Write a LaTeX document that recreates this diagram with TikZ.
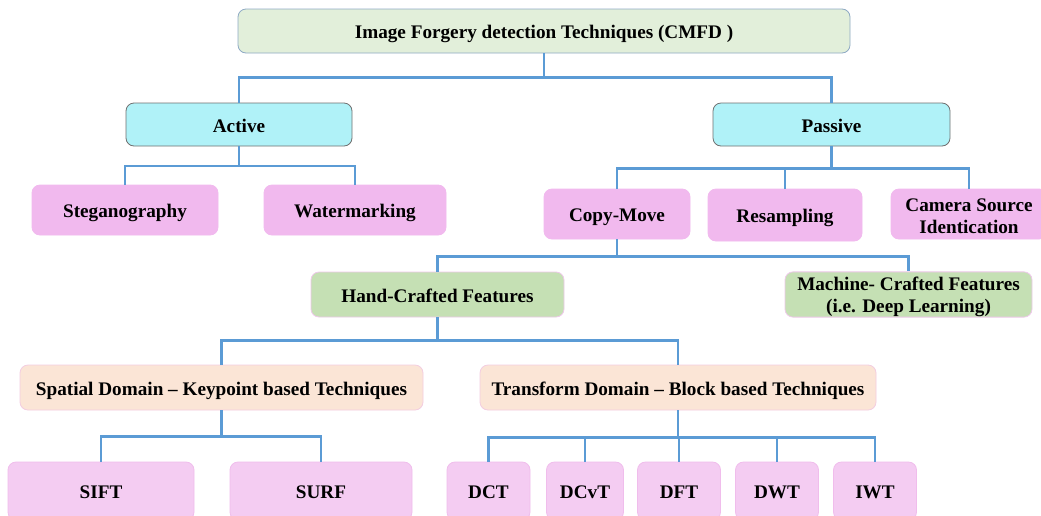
\documentclass[tikz,border=0pt]{standalone}
\usepackage{fontspec}
\setmainfont{Liberation Serif}
\begin{document}
\begin{tikzpicture}[x=1pt,y=-1pt,
  box/.style={rounded corners=8pt, inner sep=0pt, align=center,
    font=\fontsize{19.2}{22}\selectfont\bfseries, line width=0.8pt},
  oneline/.style={text height=16.5pt, text depth=1pt},
  rootbox/.style={box, oneline, fill=rootfill, draw=rootline},
  levelone/.style={box, oneline, fill=cyanfill, draw=greyline},
  pinkbox/.style={box, fill=pinkfill, draw=pinkfill},
  leafbox/.style={box, oneline, fill=leaffill, draw=leafline},
  featbox/.style={box, fill=featfill, draw=featline},
  domainbox/.style={box, oneline, fill=domfill, draw=domline},
  conn/.style={draw=connblue, line width=2.4pt}
]
\definecolor{rootfill}{HTML}{E2EFDA}
\definecolor{rootline}{HTML}{8FAAC4}
\definecolor{cyanfill}{HTML}{B0F2F8}
\definecolor{greyline}{HTML}{707070}
\definecolor{pinkfill}{HTML}{F1B9EE}
\definecolor{leaffill}{HTML}{F4CCF2}
\definecolor{leafline}{HTML}{F0BDEC}
\definecolor{featfill}{HTML}{C5E0B4}
\definecolor{featline}{HTML}{EEC8EA}
\definecolor{domfill}{HTML}{FBE5D6}
\definecolor{domline}{HTML}{F3CDE0}
\definecolor{connblue}{HTML}{5B9BD5}

\clip (0,0) rectangle (1041,515);
\fill[white] (0,0) rectangle (1041,515);

% root
\node[rootbox, minimum width=612pt, minimum height=44pt] (root) at (544,31)
  {Image Forgery detection Techniques (CMFD )};

% first level
\node[levelone, minimum width=226pt, minimum height=43pt] (act) at (239,124.5) {Active};
\node[levelone, minimum width=237pt, minimum height=43pt] (pas) at (831.5,124.5) {Passive};

% children of Active
\node[pinkbox, oneline, minimum width=186pt, minimum height=50pt] (steg) at (125,210) {Steganography};
\node[pinkbox, oneline, minimum width=182pt, minimum height=50pt] (wm) at (355,210) {Watermarking};

% children of Passive
\node[pinkbox, oneline, minimum width=146pt, minimum height=50pt] (cm) at (617,214) {Copy-Move};
\node[pinkbox, oneline, minimum width=154pt, minimum height=52pt] (res) at (785,215) {Resampling};
\node[pinkbox, minimum width=156pt, minimum height=50pt] (cam) at (969,214)
  {\rule{0pt}{18pt}Camera Source\\Identication};

% features
\node[featbox, oneline, minimum width=253pt, minimum height=45pt] (hand) at (437.5,294.5) {Hand-Crafted Features};
\node[featbox, minimum width=247pt, minimum height=45pt] (mach) at (908.5,294.5)
  {\rule{0pt}{19pt}Machine- Crafted Features\\(i.e. Deep Learning)};

% domains
\node[domainbox, minimum width=403pt, minimum height=45pt] (spat) at (221.5,387.5)
  {Spatial Domain -- Keypoint based Techniques};
\node[domainbox, minimum width=396pt, minimum height=45pt] (trans) at (678,387.5)
  {Transform Domain -- Block based Techniques};

% leaves
\node[leafbox, minimum width=186pt, minimum height=58pt] (sift) at (101,491) {SIFT};
\node[leafbox, minimum width=182pt, minimum height=58pt] (surf) at (321,491) {SURF};
\node[leafbox, minimum width=83pt, minimum height=58pt] (dct) at (488.5,491) {DCT};
\node[leafbox, minimum width=77pt, minimum height=58pt] (dcvt) at (585,491) {DCvT};
\node[leafbox, minimum width=83pt, minimum height=58pt] (dft) at (679,491) {DFT};
\node[leafbox, minimum width=83pt, minimum height=58pt] (dwt) at (777,491) {DWT};
\node[leafbox, minimum width=83pt, minimum height=58pt] (iwt) at (875,491) {IWT};

% connectors
\draw[conn] (root.south) -- ++(0,24) coordinate (j0);
\draw[conn] (act.north) |- (j0) -| (pas.north);

\draw[conn] (act.south) -- ++(0,19.5) coordinate (j1);
\draw[conn] (steg.north) |- (j1) -| (wm.north);

\draw[conn] (pas.south) -- ++(0,22) coordinate (j2);
\draw[conn] (cm.north) |- (j2) -| (cam.north);
\draw[conn] (res.north) -- (res.north |- j2);

\draw[conn] (cm.south) -- ++(0,17) coordinate (j3);
\draw[conn] (hand.north) |- (j3) -| (mach.north);

\draw[conn] (hand.south) -- ++(0,23) coordinate (j4);
\draw[conn] (spat.north) |- (j4) -| (trans.north);

\draw[conn] (spat.south) -- ++(0,26) coordinate (j5);
\draw[conn] (sift.north) |- (j5) -| (surf.north);

\draw[conn] (trans.south) -- ++(0,27) coordinate (j6);
\draw[conn] (dct.north) |- (j6) -| (iwt.north);
\draw[conn] (dcvt.north) -- (dcvt.north |- j6);
\draw[conn] (dft.north) -- (dft.north |- j6);
\draw[conn] (dwt.north) -- (dwt.north |- j6);
\end{tikzpicture}
\end{document}
